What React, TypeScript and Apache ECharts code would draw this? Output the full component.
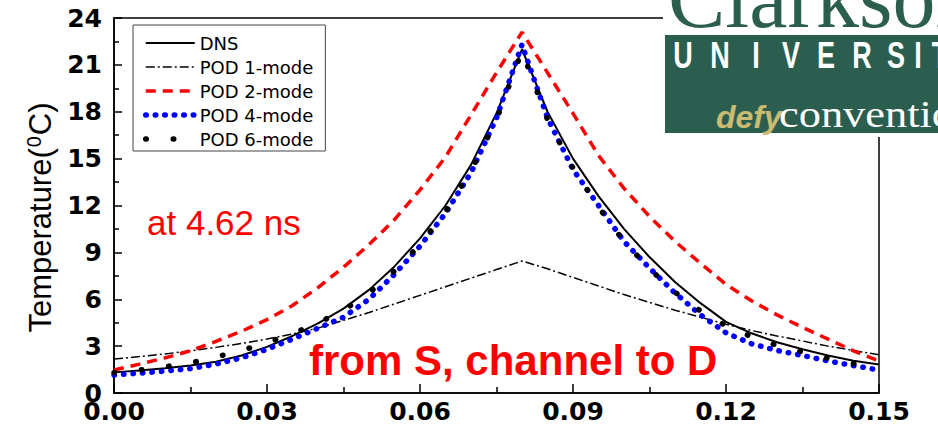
import React, { useEffect, useRef } from "react";
import * as echarts from "echarts";

const xValues = [
  0, 0.005, 0.01, 0.015, 0.02, 0.025, 0.03, 0.035, 0.04, 0.045, 0.05, 0.055, 0.06, 0.065, 0.07, 0.075,
  0.08, 0.085, 0.09, 0.095, 0.1, 0.105, 0.11, 0.115, 0.12, 0.125, 0.13, 0.135, 0.14, 0.145, 0.15,
];

const dnsValues = [
  1.32, 1.44, 1.58, 1.76, 2.0, 2.4, 2.95, 3.65, 4.45, 5.4, 6.6, 8.1, 9.9, 12.0, 14.6, 17.9,
  22.0, 18.0, 15.0, 12.6, 10.5, 8.7, 7.1, 5.75, 4.55, 3.82, 3.25, 2.8, 2.4, 2.07, 1.82,
];

const pod1Values = [
  2.17, 2.33, 2.5, 2.7, 2.92, 3.17, 3.45, 3.78, 4.15, 4.65, 5.15, 5.7, 6.25, 6.8, 7.35, 7.9,
  8.45, 7.95, 7.4, 6.85, 6.3, 5.8, 5.3, 4.85, 4.4, 4.0, 3.65, 3.33, 3.0, 2.72, 2.45,
];

const pod2Values = [
  1.47, 1.85, 2.25, 2.7, 3.3, 3.95, 4.7, 5.6, 6.75, 8.05, 9.5, 11.1, 13.0, 15.1, 17.8, 20.5,
  23.1, 20.5, 17.9, 15.2, 13.1, 11.3, 9.7, 8.3, 6.95, 5.9, 5.0, 4.2, 3.45, 2.7, 2.05,
];

const pod4Values = [
  1.15, 1.27, 1.4, 1.56, 1.85, 2.25, 2.8, 3.45, 4.15, 4.85, 6.0, 7.6, 9.4, 11.5, 14.1, 17.6,
  22.3, 17.6, 14.3, 12.0, 9.7, 8.0, 6.4, 5.0, 3.85, 3.15, 2.72, 2.4, 2.05, 1.75, 1.47,
];

const pod6Values = [
  1.3, 1.47, 1.68, 1.92, 2.3, 2.72, 3.22, 3.8, 4.48, 5.3, 6.4, 7.8, 9.5, 11.6, 14.2, 17.5,
  21.9, 17.5, 14.4, 11.9, 9.7, 7.95, 6.45, 5.25, 4.3, 3.6, 3.05, 2.62, 2.22, 1.88, 1.6,
];

const seriesNames = ["DNS", "POD 1-mode", "POD 2-mode", "POD 4-mode", "POD 6-mode"];
const universityLetters = ["U", "N", "I", "V", "E", "R", "S", "I", "T", "Y"];
const universityCenters = [683, 720, 756, 791, 826, 862, 896, 918, 940, 975];

const pairs = (ys: number[]) => xValues.map((x, i) => [x, ys[i]]);

export default function App() {
  const ref = useRef<HTMLDivElement>(null);

  useEffect(() => {
    if (!ref.current) return;
    const chart = echarts.init(ref.current, undefined, { renderer: "svg" });

    const tickFont = { fontFamily: "DejaVu Sans", fontWeight: "bold" as const, fontSize: 25, color: "#000" };

    const logoGraphics: any[] = [
      { type: "rect", z: 100, shape: { x: 663, y: 0, width: 275, height: 137 }, style: { fill: "#ffffff" } },
      {
        type: "text", z: 101, x: 668, y: -2,
        style: { text: "Clarkson", fontFamily: "Liberation Serif", fontSize: 86, fill: "#2b5e4e", textAlign: "left", textVerticalAlign: "middle" },
      },
      { type: "rect", z: 101, shape: { x: 665, y: 35, width: 273, height: 98 }, style: { fill: "#2b5e4e" } },
      ...universityLetters.map((ch, i) => ({
        type: "text", z: 102, x: universityCenters[i], y: 56, scaleX: 0.75,
        style: { text: ch, fontFamily: "Liberation Sans", fontWeight: "bold", fontSize: 36, fill: "#ffffff", textAlign: "center", textVerticalAlign: "middle" },
      })),
      {
        type: "text", z: 102, x: 716, y: 117,
        style: { text: "defy", fontFamily: "Liberation Sans", fontWeight: "bold", fontStyle: "italic", fontSize: 32, fill: "#c9bb72", textAlign: "left", textVerticalAlign: "middle" },
      },
      {
        type: "text", z: 102, x: 779, y: 115, scaleX: 1.2,
        style: { text: "convention", fontFamily: "Liberation Serif", fontSize: 37, fill: "#ffffff", textAlign: "left", textVerticalAlign: "middle" },
      },
    ];

    chart.setOption({
      animation: false,
      backgroundColor: "#ffffff",
      grid: { left: 114, right: 59, top: 18, bottom: 40, show: true, borderColor: "#000", borderWidth: 1.5, containLabel: false },
      legend: {
        orient: "vertical",
        left: 133,
        top: 25,
        data: seriesNames,
        itemWidth: 49,
        itemHeight: 14,
        itemGap: 6,
        padding: [9, 12, 3, 10],
        borderColor: "#444",
        borderWidth: 1,
        backgroundColor: "#ffffff",
        itemStyle: { opacity: 0 },
        lineStyle: { width: "inherit", type: "inherit", cap: "inherit" },
        textStyle: { fontFamily: "DejaVu Sans", fontSize: 18, color: "#000", lineHeight: 14 },
      },
      xAxis: {
        type: "value",
        min: 0,
        max: 0.15,
        interval: 0.03,
        axisLine: { show: true, lineStyle: { color: "#000", width: 1.5 } },
        axisTick: { show: true, inside: true, length: 9, lineStyle: { color: "#000", width: 1.5 } },
        minorTick: { show: true, splitNumber: 2, length: 6, lineStyle: { color: "#000", width: 1.5 } },
        splitLine: { show: false },
        axisLabel: { ...tickFont, margin: 6, formatter: (v: number) => v.toFixed(2) },
      },
      yAxis: {
        type: "value",
        min: 0,
        max: 24,
        interval: 3,
        name: "{a|Temperature(}{s|0}{a|C)}",
        nameLocation: "middle",
        nameRotate: 90,
        nameGap: 56,
        nameTextStyle: {
          color: "#000",
          padding: [0, 24, 0, 0],
          rich: {
            a: { fontFamily: "Liberation Sans", fontSize: 31, color: "#000" },
            s: { fontFamily: "Liberation Sans", fontSize: 20, color: "#000", padding: [0, 1, 13, 1] },
          },
        },
        axisLine: { show: true, lineStyle: { color: "#000", width: 1.5 } },
        axisTick: { show: true, inside: true, length: 8, lineStyle: { color: "#000", width: 1.5 } },
        minorTick: { show: true, splitNumber: 2, length: 5, lineStyle: { color: "#000", width: 1.5 } },
        splitLine: { show: false },
        axisLabel: { ...tickFont, margin: 12 },
      },
      series: [
        {
          name: "DNS", type: "line", data: pairs(dnsValues), symbol: "none", z: 3,
          itemStyle: { color: "#000" },
          lineStyle: { color: "#000", width: 2 },
        },
        {
          name: "POD 1-mode", type: "line", data: pairs(pod1Values), symbol: "none", z: 3,
          itemStyle: { color: "#000" },
          lineStyle: { color: "#000", width: 1.5, type: [9, 3, 2, 3] },
        },
        {
          name: "POD 2-mode", type: "line", data: pairs(pod2Values), symbol: "none", z: 3,
          itemStyle: { color: "#ff0000" },
          lineStyle: { color: "#ff0000", width: 3.5, type: [10, 7] },
        },
        {
          name: "POD 4-mode", type: "line", data: pairs(pod4Values), symbol: "none", z: 4,
          itemStyle: { color: "#0000ff" },
          lineStyle: { color: "#0000ff", width: 5.5, type: [0.5, 9], cap: "round" },
        },
        {
          name: "POD 6-mode", type: "line", data: pairs(pod6Values), symbol: "none", z: 5,
          itemStyle: { color: "#000" },
          lineStyle: { color: "#000", width: 5.5, type: [0.5, 27], cap: "round" },
        },
      ],
      graphic: [
        {
          type: "text", z: 50, x: 147, y: 222,
          style: { text: "at 4.62 ns", fontFamily: "Liberation Sans", fontSize: 35, fill: "#ff0000", textAlign: "left", textVerticalAlign: "middle" },
        },
        {
          type: "text", z: 50, x: 309, y: 360,
          style: { text: "from S, channel to D", fontFamily: "Liberation Sans", fontWeight: "bold", fontSize: 42, fill: "#ff0000", textAlign: "left", textVerticalAlign: "middle" },
        },
        ...logoGraphics,
      ],
    });

    return () => chart.dispose();
  }, []);

  return <div ref={ref} style={{ position: "fixed", left: 0, top: 0, width: 938, height: 433 }} />;
}
